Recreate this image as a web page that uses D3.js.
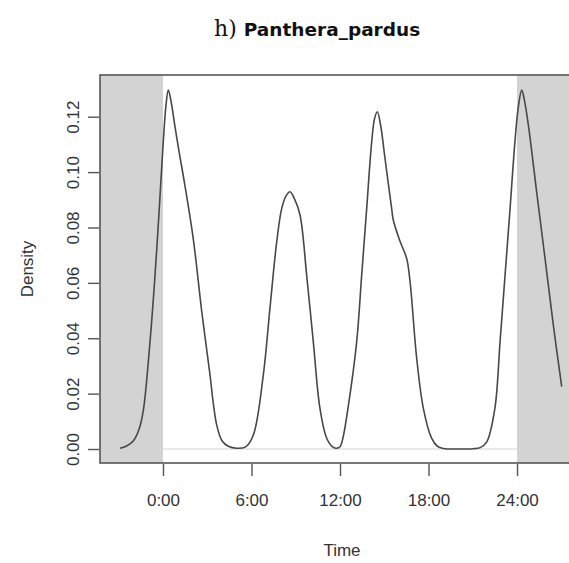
<!DOCTYPE html>
<html>
<head>
<meta charset="utf-8">
<script src="https://cdn.jsdelivr.net/npm/d3@7"></script>
<style>
  html, body { margin: 0; padding: 0; background: #fff; }
  svg { display: block; }
</style>
</head>
<body>
<svg id="chart" width="569" height="563"></svg>
<script>
// ---- data ----
const titlePrefix = "h)";
const titleSpecies = "Panthera_pardus";
const xTickValues = [0, 6, 12, 18, 24];
const xTickLabels = ["0:00", "6:00", "12:00", "18:00", "24:00"];
const yTickValues = [0, 0.02, 0.04, 0.06, 0.08, 0.10, 0.12];
const hours = [-2.92, -2.5, -2.0, -1.6, -1.33, -0.88, -0.54, -0.25, 0.02, 0.2, 0.36, 0.55, 0.81, 1.15, 1.38,
  2.05, 2.62, 3.19, 3.41, 3.64, 4.0, 4.43, 5.0, 5.6, 6.12, 6.8, 7.25, 7.71, 8.05, 8.35, 8.61, 8.9, 9.29,
  9.74, 10.19, 10.64, 11.1, 11.5, 11.78, 12.0, 12.2, 12.55, 13.13, 13.47, 13.81, 14.15, 14.35, 14.53, 14.75,
  15.05, 15.5, 15.62, 16.07, 16.52, 16.75, 17.2, 17.65, 18.21, 18.6, 19.0, 20.0, 21.0, 21.5, 21.95, 22.5,
  22.85, 23.19, 23.53, 23.86, 24.1, 24.32, 24.5, 24.77, 25.33, 25.9, 26.46, 27.03];
const density = [0.0003, 0.0010, 0.0030, 0.0075, 0.0140, 0.0387, 0.0628, 0.0870, 0.1110, 0.1240, 0.1296, 0.1255, 0.1165, 0.1055, 0.0985,
  0.0760, 0.0500, 0.0267, 0.0165, 0.0087, 0.0030, 0.0010, 0.0003, 0.0008, 0.0050, 0.0267, 0.0508, 0.0748, 0.0869, 0.0915, 0.0929, 0.0905, 0.0845,
  0.0628, 0.0387, 0.0147, 0.0039, 0.0008, 0.0003, 0.0008, 0.0040, 0.0150, 0.0387, 0.0628, 0.0869, 0.1110, 0.1195, 0.1218, 0.1170,
  0.1050, 0.0869, 0.0825, 0.0750, 0.0688, 0.0604, 0.0327, 0.0147, 0.0039, 0.0010, 0.0002, 0.0000, 0.0001, 0.0005, 0.0026, 0.0147,
  0.0387, 0.0628, 0.0869, 0.1110, 0.1240, 0.1296, 0.1260, 0.1170, 0.0929, 0.0688, 0.0448, 0.0225];

const svg = d3.select("#chart");
const plot = { left: 100, top: 75, right: 580, bottom: 463 };

const x = d3.scaleLinear().domain([-4.27, 28.27]).range([plot.left, plot.right]);
const y = d3.scaleLinear().domain([-0.00505, 0.13506]).range([plot.bottom, plot.top]);

// shaded extension regions
svg.append("rect").attr("x", x(-4.27)).attr("y", plot.top)
  .attr("width", x(0) - x(-4.27)).attr("height", plot.bottom - plot.top).attr("fill", "#d3d3d3");
svg.append("rect").attr("x", x(24)).attr("y", plot.top)
  .attr("width", x(28.27) - x(24)).attr("height", plot.bottom - plot.top).attr("fill", "#d3d3d3");

// zero line
svg.append("line").attr("x1", plot.left).attr("x2", plot.right)
  .attr("y1", y(0)).attr("y2", y(0)).attr("stroke", "#d3d3d3").attr("stroke-width", 1.2);

// density curve
const pts = hours.map((h, i) => [h, density[i]]);
svg.append("path").datum(pts)
  .attr("fill", "none").attr("stroke", "#484848").attr("stroke-width", 1.6)
  .attr("d", d3.line().x(d => x(d[0])).y(d => y(d[1])).curve(d3.curveCatmullRom.alpha(0.5)));

// box
svg.append("rect").attr("x", plot.left).attr("y", plot.top)
  .attr("width", plot.right - plot.left).attr("height", plot.bottom - plot.top)
  .attr("fill", "none").attr("stroke", "#555").attr("stroke-width", 1.6);

// x axis
const xAxis = d3.axisBottom(x).tickValues(xTickValues)
  .tickFormat((d, i) => xTickLabels[i]).tickSize(12).tickPadding(18);
const gx = svg.append("g").attr("transform", `translate(0,${plot.bottom + 1})`).call(xAxis);
gx.select(".domain").remove();
gx.selectAll(".tick line").attr("stroke", "#555").attr("stroke-width", 1.4);
gx.selectAll(".tick text").attr("font-family", "Liberation Sans, Arial, sans-serif")
  .attr("font-size", 17).attr("fill", "#333");

// y axis
const yAxis = d3.axisLeft(y).tickValues(yTickValues).tickFormat(d3.format(".2f")).tickSize(11).tickPadding(8);
const gy = svg.append("g").attr("transform", `translate(${plot.left - 1},0)`).call(yAxis);
gy.select(".domain").remove();
gy.selectAll(".tick line").attr("stroke", "#555").attr("stroke-width", 1.4);
gy.selectAll(".tick text").attr("font-family", "Liberation Sans, Arial, sans-serif")
  .attr("font-size", 17).attr("fill", "#333")
  .attr("text-anchor", "middle").attr("dy", 0)
  .attr("x", 0).attr("y", 0)
  .attr("transform", "translate(-20,0) rotate(-90)");

// axis titles
svg.append("text").attr("x", (plot.left + plot.right) / 2 + 2).attr("y", 556)
  .attr("text-anchor", "middle").attr("font-family", "Liberation Sans, Arial, sans-serif")
  .attr("font-size", 17).attr("fill", "#333").text("Time");
svg.append("text").attr("transform", `translate(33,${(plot.top + plot.bottom) / 2}) rotate(-90)`)
  .attr("text-anchor", "middle").attr("font-family", "Liberation Sans, Arial, sans-serif")
  .attr("font-size", 17).attr("fill", "#333").text("Density");

// title
const t = svg.append("text").attr("x", 214).attr("y", 36).attr("fill", "#111");
t.append("tspan").attr("font-family", "DejaVu Serif, serif").attr("font-size", 22).text(titlePrefix + " ");
t.append("tspan").attr("font-family", "DejaVu Sans, sans-serif").attr("font-weight", "bold")
  .attr("font-size", 18.5).text(titleSpecies);
</script>
</body>
</html>
